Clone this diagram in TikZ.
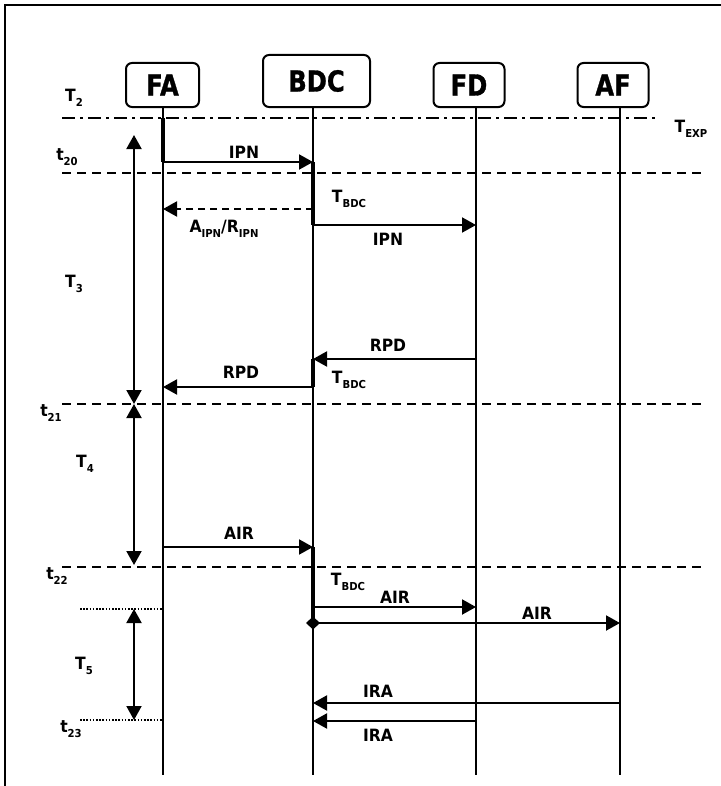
\documentclass[tikz,border=0pt]{standalone}
\usepackage{fontspec}
\setmainfont{DejaVu Sans}
\newfontfamily\boxfont{DejaVu Sans}[FakeStretch=0.84,FakeBold=1]
\newfontfamily\lblfont{DejaVu Sans}[FakeStretch=0.92]
\usetikzlibrary{arrows.meta}
\newcommand\sbs[1]{\raisebox{-0.3em}{\fontsize{11}{11}\selectfont\bfseries #1}}
\begin{document}
\begin{tikzpicture}[x=1bp,y=-1bp,
  actor/.style={draw, line width=2bp, rounded corners=6bp, inner sep=0pt,
    font={\boxfont\bfseries\fontsize{29}{30}\selectfont}},
  lbl/.style={inner sep=0pt, font={\lblfont\bfseries\fontsize{17}{19}\selectfont}},
  life/.style={line width=2bp},
  actbar/.style={line width=4.5bp},
  msg/.style={line width=2bp, -{Triangle[length=14bp,width=15bp]}},
  dmsg/.style={line width=2bp, dash pattern=on 7bp off 5bp, -{Triangle[length=14bp,width=15bp]}},
  span/.style={line width=2bp, {Triangle[length=14bp,width=15bp]}-{Triangle[length=14bp,width=15bp]}},
  tline/.style={line width=2bp, dash pattern=on 9bp off 6bp},
  dashdot/.style={line width=2bp, dash pattern=on 13bp off 5bp on 3bp off 5bp},
  dotline/.style={line width=1.6bp, dash pattern=on 1.6bp off 1.6bp},
]
\useasboundingbox (0,0) rectangle (721,786);
\fill[white] (0,0) rectangle (721,786);
\draw[line width=1.5bp] (5,790) -- (5,5) -- (725,5);

% actors
\node[actor, minimum width=73bp, minimum height=44bp] (FA) at (162.5,85) {FA};
\node[actor, minimum width=107bp, minimum height=52bp] (BDC) at (316.5,81) {BDC};
\node[actor, minimum width=71bp, minimum height=44bp] (FD) at (469,85) {FD};
\node[actor, minimum width=71bp, minimum height=44bp] (AF) at (613,85) {AF};

% lifeline ends
\coordinate (faB) at (163,775);
\coordinate (bdB) at (313,775);
\coordinate (fdB) at (476,775);
\coordinate (afB) at (620,775);
\draw[life] (FA.south -| faB) -- (faB);
\draw[life] (BDC.south -| bdB) -- (bdB);
\draw[life] (FD.south -| fdB) -- (fdB);
\draw[life] (AF.south -| afB) -- (afB);

% time lines
\coordinate (hA1) at (62,118); \coordinate (hA2) at (657,118);
\coordinate (hB1) at (62,173); \coordinate (hB2) at (706,173);
\coordinate (hC1) at (62,404); \coordinate (hC2) at (706,404);
\coordinate (hD1) at (62,567); \coordinate (hD2) at (706,567);
\draw[dashdot] (hA1) -- (hA2);
\draw[tline] (hB1) -- (hB2);
\draw[tline] (hC1) -- (hC2);
\draw[tline] (hD1) -- (hD2);
\coordinate (dA1) at (80,609); \coordinate (dA2) at (163,609);
\coordinate (dB1) at (80,720); \coordinate (dB2) at (163,720);
\draw[dotline] (dA1) -- (dA2);
\draw[dotline] (dB1) -- (dB2);

% time labels
\node[lbl] (lT2) at (74,98) {T\sbs{2}};
\node[lbl] (lTexp) at (691,129) {T\sbs{EXP}};
\node[lbl] (lt20) at (67,157) {t\sbs{20}};
\node[lbl] (lT3) at (74,284) {T\sbs{3}};
\node[lbl] (lt21) at (51,413) {t\sbs{21}};
\node[lbl] (lT4) at (85,464) {T\sbs{4}};
\node[lbl] (lt22) at (57,576) {t\sbs{22}};
\node[lbl] (lT5) at (84,666) {T\sbs{5}};
\node[lbl] (lt23) at (71,729) {t\sbs{23}};

% spans
\coordinate (s1) at (134,135);
\coordinate (s2) at (134,404);
\coordinate (s3) at (134,565);
\coordinate (s4) at (134,609);
\coordinate (s5) at (134,720);
\draw[span] (s1) -- (s2);
\draw[span] (s2) -- (s3);
\draw[span] (s4) -- (s5);

% event points
\coordinate (fa0) at (163,118);
\coordinate (fa1) at (163,162);
\coordinate (bd1) at (313,162);
\coordinate (bd2) at (313,209);
\coordinate (fa2) at (163,209);
\coordinate (bd3) at (313,225);
\coordinate (fd3) at (476,225);
\coordinate (fd4) at (476,359);
\coordinate (bd4) at (313,359);
\coordinate (bd5) at (313,387);
\coordinate (fa5) at (163,387);
\coordinate (fa6) at (163,547);
\coordinate (bd6) at (313,547);
\coordinate (bd7) at (313,607);
\coordinate (fd7) at (476,607);
\coordinate (bd8) at (313,623);
\coordinate (af8) at (620,623);
\coordinate (af9) at (620,703);
\coordinate (bd9) at (313,703);
\coordinate (fd10) at (476,721);
\coordinate (bd10) at (313,721);

% activation bars
\draw[actbar] (fa0) -- (fa1);
\draw[actbar] (bd1) -- (bd3);
\draw[actbar] (bd4) -- (bd5);
\draw[actbar] (bd6) -- (bd8);

% messages
\draw[msg] (fa1) -- (bd1);
\node[lbl] (m1) at (244,152) {IPN};
\draw[dmsg] (bd2) -- (fa2);
\node[lbl] (m2) at (224,229) {A\sbs{IPN}/R\sbs{IPN}};
\draw[msg] (bd3) -- (fd3);
\node[lbl] (m3) at (388,239) {IPN};
\node[lbl] (tb1) at (349,199) {T\sbs{BDC}};
\draw[msg] (fd4) -- (bd4);
\node[lbl] (m4) at (388,345) {RPD};
\draw[msg] (bd5) -- (fa5);
\node[lbl] (m5) at (241,372) {RPD};
\node[lbl] (tb2) at (349,380) {T\sbs{BDC}};
\draw[msg] (fa6) -- (bd6);
\node[lbl] (m6) at (239,533) {AIR};
\node[lbl] (tb3) at (348,582) {T\sbs{BDC}};
\draw[msg] (bd7) -- (fd7);
\node[lbl] (m7) at (395,597) {AIR};
\draw[line width=2bp, shorten <=-7bp, {Diamond[length=14bp,width=13bp]}-{Triangle[length=14bp,width=15bp]}] (bd8) -- (af8);
\node[lbl] (m8) at (537,613) {AIR};
\draw[msg] (af9) -- (bd9);
\node[lbl] (m9) at (378,691) {IRA};
\draw[msg] (fd10) -- (bd10);
\node[lbl] (m10) at (378,735) {IRA};
\end{tikzpicture}
\end{document}
